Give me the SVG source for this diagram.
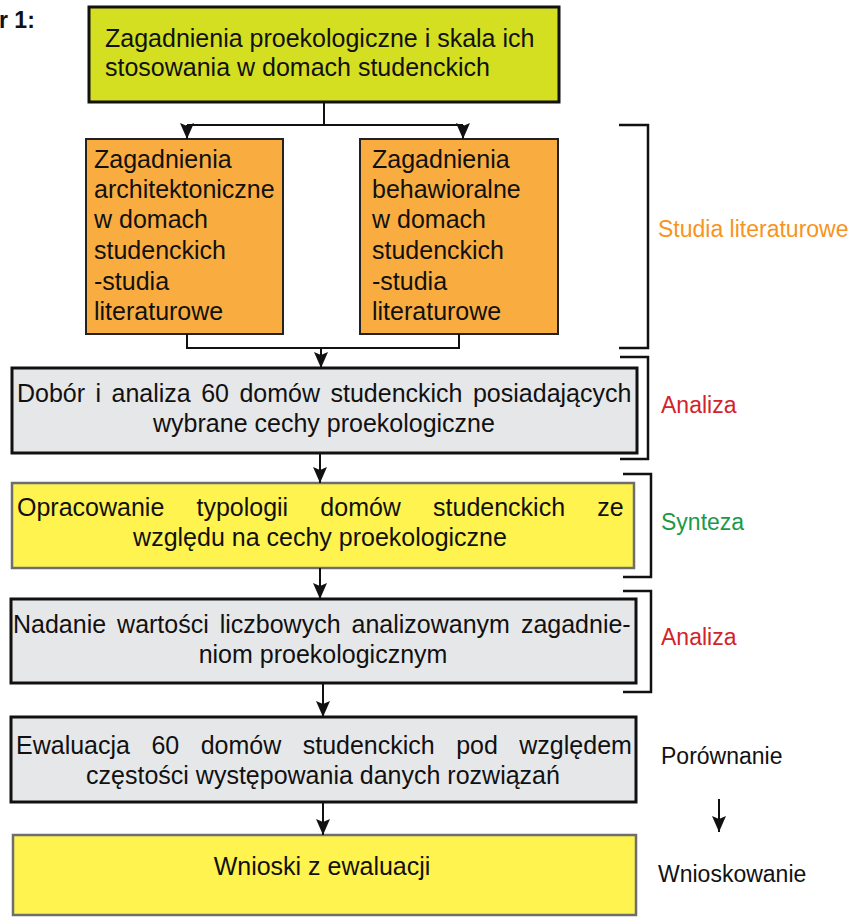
<svg xmlns="http://www.w3.org/2000/svg" width="856" height="918" viewBox="0 0 856 918">
  <style>
    text { font-family: "Liberation Sans", Arial, sans-serif; fill: #111; }
    .t { font-size: 25px; }
    .lbl { font-size: 23px; }
    .box-dark { stroke: #111; stroke-width: 3; }
    .box-orange { fill: #f9ad40; stroke: #222; stroke-width: 2; }
    .box-yellow { fill: #fff34f; stroke: #6d6e70; stroke-width: 2.5; }
    .gray { fill: #e6e7e9; }
    .conn { fill: none; stroke: #111; stroke-width: 2; }
    .bracket { fill: none; stroke: #111; stroke-width: 2.5; }
  </style>
  <defs>
    <!-- filled arrowhead, drawn along +x so orient="auto" follows the line -->
    <marker id="arrow" markerUnits="userSpaceOnUse" markerWidth="16" markerHeight="14" viewBox="0 0 16 14" refX="16" refY="7" orient="auto">
      <path d="M0,0 L16,7 L0,14 L3,7 Z" fill="#111"/>
    </marker>
  </defs>
  <rect width="856" height="918" fill="#ffffff"/>

  <text x="-1" y="28" style="font-size:23px;font-weight:bold">r 1:</text>

  <g id="node-top">
    <rect x="89" y="7" width="470" height="95" fill="#d4df22" class="box-dark" stroke-width="2.5"/>
    <text class="t" x="105" y="47">Zagadnienia proekologiczne i skala ich</text>
    <text class="t" x="105" y="76">stosowania w domach studenckich</text>
  </g>

  <g id="node-arch">
    <rect x="86" y="139" width="197" height="195" class="box-orange"/>
    <text class="t" x="94" y="168">Zagadnienia</text>
    <text class="t" x="94" y="198">architektoniczne</text>
    <text class="t" x="94" y="228">w domach</text>
    <text class="t" x="94" y="259">studenckich</text>
    <text class="t" x="94" y="290">-studia</text>
    <text class="t" x="94" y="320">literaturowe</text>
  </g>

  <g id="node-behav">
    <rect x="360" y="139" width="198" height="195" class="box-orange"/>
    <text class="t" x="372" y="168">Zagadnienia</text>
    <text class="t" x="372" y="198">behawioralne</text>
    <text class="t" x="372" y="228">w domach</text>
    <text class="t" x="372" y="259">studenckich</text>
    <text class="t" x="372" y="290">-studia</text>
    <text class="t" x="372" y="320">literaturowe</text>
  </g>

  <g id="node-selection">
    <rect x="12" y="368" width="625" height="85" class="gray box-dark"/>
    <text class="t" x="17" y="402" style="word-spacing:3.5px">Dobór i analiza 60 domów studenckich posiadających</text>
    <text class="t" x="324" y="432" text-anchor="middle">wybrane cechy proekologiczne</text>
  </g>

  <g id="node-typology">
    <rect x="12" y="483" width="622" height="85" class="box-yellow"/>
    <text class="t" x="17" y="516" style="word-spacing:25.2px">Opracowanie typologii domów studenckich ze</text>
    <text class="t" x="320" y="546" text-anchor="middle">względu na cechy proekologiczne</text>
  </g>

  <g id="node-values">
    <rect x="11" y="599" width="625" height="84" class="gray box-dark"/>
    <text class="t" x="13" y="633" style="word-spacing:4px">Nadanie wartości liczbowych analizowanym zagadnie-</text>
    <text class="t" x="323" y="663" text-anchor="middle">niom proekologicznym</text>
  </g>

  <g id="node-evaluation">
    <rect x="11" y="717" width="625" height="85" class="gray box-dark"/>
    <text class="t" x="16" y="754" style="word-spacing:14.5px">Ewaluacja 60 domów studenckich pod względem</text>
    <text class="t" x="323" y="784" text-anchor="middle">częstości występowania danych rozwiązań</text>
  </g>

  <g id="node-conclusions">
    <rect x="13" y="835" width="623" height="80" class="box-yellow"/>
    <text class="t" x="322" y="875" text-anchor="middle">Wnioski z ewaluacji</text>
  </g>

  <g id="connectors">
    <path class="conn" d="M324,102 V125"/>
    <path class="conn" d="M187,125 H463"/>
    <path class="conn" d="M187,125 V139" marker-end="url(#arrow)"/>
    <path class="conn" d="M463,125 V139" marker-end="url(#arrow)"/>
    <path class="conn" d="M187,334 V348 H459 V334"/>
    <path class="conn" d="M321,348 V368" marker-end="url(#arrow)"/>
    <path class="conn" d="M320,453 V483" marker-end="url(#arrow)"/>
    <path class="conn" d="M320,568 V599" marker-end="url(#arrow)"/>
    <path class="conn" d="M323,683 V717" marker-end="url(#arrow)"/>
    <path class="conn" d="M323,802 V835" marker-end="url(#arrow)"/>
    <path class="conn" d="M719,799 V832" marker-end="url(#arrow)"/>
  </g>

  <g id="stages">
    <path class="bracket" d="M619,125 H648 V348 H619"/>
    <text class="lbl" x="658" y="237" style="fill:#f7941d">Studia literaturowe</text>
    <path class="bracket" d="M620,357 H648 V459 H620"/>
    <text class="lbl" x="661" y="413" style="fill:#d2232a">Analiza</text>
    <path class="bracket" d="M623,474 H651 V577 H623"/>
    <text class="lbl" x="661" y="530" style="fill:#1a9a4a">Synteza</text>
    <path class="bracket" d="M623,591 H651 V692 H623"/>
    <text class="lbl" x="661" y="645" style="fill:#d2232a">Analiza</text>
    <text class="lbl" x="661" y="764">Porównanie</text>
    <text class="lbl" x="658" y="882">Wnioskowanie</text>
  </g>
</svg>
